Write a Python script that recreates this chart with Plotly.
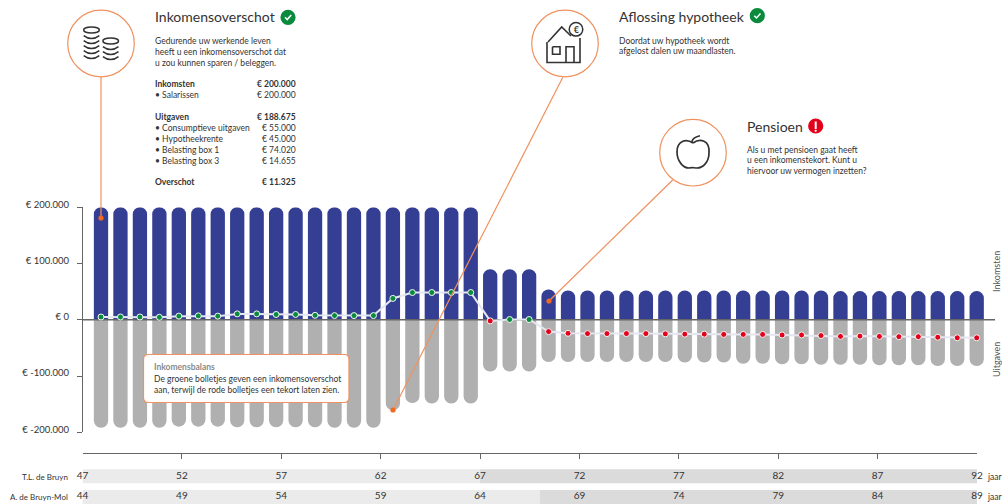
import plotly.graph_objects as go

# ---------- data ----------
ages = list(range(47, 93))
income = [200000]*20 + [90000]*3 + [54000] + [52000]*14 + [51000]*8
expenses = [-192000,-192000,-192000,-192000,-190000,-190000,-190000,-191000,-191000,-191000,-191000,-191000,-192000,-192000,-192000,
            -161000,-148000,-149000,-149000,-149000,-92000,-92000,-92000,
            -75000,-75000,-75000,-75000,-75000,-75000,-75000,-76000,-76000,-76000,-78000,-78000,-79000,-79000,-80000,-80000,-80000,-81000,-81000,-81000,-82000,-82000,-82000]
balance = [5000,5000,5000,4500,6500,7000,6500,10500,10500,9500,9500,8000,7500,7500,7500,
           38000,48500,48500,48500,48500,-2000,500,500,
           -21000,-24000,-24500,-24500,-24500,-24500,-25000,-25500,-25500,-26000,-26000,-26000,-27000,-27000,-28000,-29500,-29000,-29500,-30000,-30000,-31000,-32000,-32000]
ytick_vals = [200000,100000,0,-100000,-200000]
ytick_text = ["€ 200.000","€ 100.000","€ 0","€ -100.000","€ -200.000"]
persons = ["T.L. de Bruyn","A. de Bruyn-Mol"]
start_age = [47,44]
work_years = [20,23]
pension_years = [25,22]
tick_offsets = [0,5,10,15,20,25,30,35,40,45]

BLUE="#343f93"; GRAY="#b0b0b0"; GREEN="#0a8a3c"; RED="#e2001a"; ORANGE="#f0915f"; DOT="#f26a21"; INK="#333333"; AX="#666666"
FONT="Lato"
W,H=1002,504
px=lambda x:x/W
py=lambda y:1-y/H

fig=go.Figure()
# income / expense columns
fig.add_trace(go.Bar(x=ages,y=income,marker_color=BLUE,width=0.735,marker_line_width=0,hoverinfo="skip"))
fig.add_trace(go.Bar(x=ages,y=expenses,marker_color=GRAY,width=0.735,marker_line_width=0,hoverinfo="skip"))
XR=[47-(101-83)/19.46,47+(995-101)/19.46]
fig.add_trace(go.Scatter(x=XR,y=[0,0],mode="lines",line=dict(color=AX,width=1.5),hoverinfo="skip"))
dot_colors=[GREEN if b>=0 else RED for b in balance]
fig.add_trace(go.Scatter(x=ages,y=balance,mode="lines+markers",line=dict(color="#e4e6f2",width=2),
    marker=dict(color=dot_colors,size=6,line=dict(color="#f4f6f4",width=1)),hoverinfo="skip",cliponaxis=False))

# timeline strips
offs_base=[0,0]
fig.add_trace(go.Bar(orientation="h",y=persons,x=work_years,base=offs_base,marker=dict(color="#ebebeb",cornerradius=0,line_width=0),width=0.68,xaxis="x2",yaxis="y2",hoverinfo="skip"))
fig.add_trace(go.Bar(orientation="h",y=persons,x=pension_years,base=work_years,marker=dict(color="#dcdbdb",cornerradius=0,line_width=0),width=0.68,xaxis="x2",yaxis="y2",hoverinfo="skip"))
for name,start in zip(persons,start_age):
    fig.add_trace(go.Scatter(x=tick_offsets,y=[name]*len(tick_offsets),mode="text",text=[str(start+o) for o in tick_offsets],
        textfont=dict(family=FONT,size=10,color=INK),xaxis="x2",yaxis="y2",hoverinfo="skip",cliponaxis=False))

shapes=[];ann=[]
def txt(x,y,s,size=8.5,color=INK,anchor="left",bold=False,angle=0):
    ann.append(dict(xref="paper",yref="paper",x=px(x),y=py(y),text=("<b>%s</b>"%s if bold else s),showarrow=False,xanchor=anchor,yanchor="middle",
        textangle=angle,font=dict(family=FONT,size=size,color=color),borderpad=0,borderwidth=0))
def circle(cx,cy,r,fill="white",line=ORANGE,lw=1.2):
    shapes.append(dict(type="circle",xref="paper",yref="paper",x0=px(cx-r),x1=px(cx+r),y0=py(cy+r),y1=py(cy-r),fillcolor=fill,line=dict(color=line,width=lw),layer="above"))
def seg(x0,y0,x1,y1,color=ORANGE,lw=1.2):
    shapes.append(dict(type="line",xref="paper",yref="paper",x0=px(x0),y0=py(y0),x1=px(x1),y1=py(y1),line=dict(color=color,width=lw),layer="above"))
def path(cmds,color=INK,lw=1.6,fill=None):
    out=[]
    for c in cmds:
        out.append(c[0]+" "+" ".join("%.5f,%.5f"%(px(c[i]),py(c[i+1])) for i in range(1,len(c),2)))
    shapes.append(dict(type="path",xref="paper",yref="paper",path=" ".join(out)+(" Z" if fill else ""),line=dict(color=color,width=lw),fillcolor=fill or "rgba(0,0,0,0)",layer="above"))

# connectors
seg(101,77,101,218); seg(562.7,77.5,393,410); seg(672.7,180,549,301)
for c in [(101,218),(393,410),(549,301)]:
    circle(c[0],c[1],2.6,fill=DOT,line=DOT,lw=0)
circle(101,43.5,33.3); circle(565,43.5,33.3); circle(693,152.7,33.3)

# coins icon
def coin_stack(cx,top,n,rx=7.8):
    shapes.append(dict(type="circle",xref="paper",yref="paper",x0=px(cx-rx),x1=px(cx+rx),y0=py(top+3),y1=py(top-3),line=dict(color=INK,width=1.5),layer="above"))
    for i in range(n):
        y=top+5.6+i*5
        path([("M",cx-rx,y),("Q",cx,y+6,cx+rx,y)],lw=1.5)
coin_stack(91.5,30,5); coin_stack(110.7,41,3)

# house icon
path([("M",548,42),("L",561.7,27),("L",571,36)],lw=1.6)
path([("M",547,42),("L",547,62.5),("L",580,62.5),("L",580,38)],lw=1.6)
path([("M",552.5,46.7),("L",560,46.7),("L",560,54.3),("L",552.5,54.3),("L",552.5,46.7)],lw=1.6)
path([("M",566,62.5),("L",566,46.7),("L",574,46.7),("L",574,62.5)],lw=1.6)
circle(576,29.3,6.8,fill="white",line=INK,lw=1.5)
txt(576,29.5,"€",size=8.5,anchor="center",bold=True)

# apple icon
path([("M",693,143),("C",700,138,710,140,709,153),("C",709,162,703,168,697,168),("C",694,168,692,167,689,168),("C",683,168,677,161,677,152),
      ("C",677,141,686,138,693,143)],lw=1.7)
path([("M",692,142),("C",692,139,695,137,700,135.8)],lw=1.7)

# badges
for cx,cy in [(288,17.3),(757.3,15.7)]:
    circle(cx,cy,7.6,fill=GREEN,line=GREEN,lw=0)
    path([("M",cx-3,cy),("L",cx-0.8,cy+2.3),("L",cx+3.2,cy-2.2)],color="white",lw=1.5)
circle(815.7,126,7.6,fill=RED,line=RED,lw=0)
shapes.append(dict(type="rect",xref="paper",yref="paper",x0=px(814.7),x1=px(816.7),y0=py(129),y1=py(121.5),fillcolor="white",line=dict(width=0),layer="above"))
circle(815.7,130.8,1.1,fill="white",line="white",lw=0)

# callout box
bx0,bx1,by0,by1,r=143.5,349,354.5,402.5,5
path([("M",bx0+r,by0),("L",bx1-r,by0),("Q",bx1,by0,bx1,by0+r),("L",bx1,by1-r),("Q",bx1,by1,bx1-r,by1),("L",bx0+r,by1),("Q",bx0,by1,bx0,by1-r),("L",bx0,by0+r),("Q",bx0,by0,bx0+r,by0)],
     color=ORANGE,lw=1.2,fill="white")
txt(154,367,"Inkomensbalans",size=8.5,color="#8a8a8a",bold=True)
txt(154,378.5,"De groene bolletjes geven een inkomensoverschot",size=8.5)
txt(154,390,"aan, terwijl de rode bolletjes een tekort laten zien.",size=8.5)

# text panel 1
txt(155,17,"Inkomensoverschot",size=14)
for y,s in zip([41,52,62.5],["Gedurende uw werkende leven","heeft u een inkomensoverschot dat","u zou kunnen sparen / beleggen."]):
    txt(155,y,s)
rows=[(84,"Inkomsten","€ 200.000",True),(95,"• Salarissen","€ 200.000",False),(117,"Uitgaven","€ 188.675",True),
      (128,"• Consumptieve uitgaven","€ 55.000",False),(139,"• Hypotheekrente","€ 45.000",False),(149.5,"• Belasting box 1","€ 74.020",False),
      (160.5,"• Belasting box 3","€ 14.655",False),(182,"Overschot","€ 11.325",True)]
for y,a,b,bd in rows:
    txt(155,y,a,bold=bd); txt(295.5,y,b,anchor="right",bold=bd)

# text panel 2 / 3
txt(619,17,"Aflossing hypotheek",size=14)
txt(619,41,"Doordat uw hypotheek wordt"); txt(619,51.5,"afgelost dalen uw maandlasten.")
txt(747,126,"Pensioen",size=14)
txt(747,149.5,"Als u met pensioen gaat heeft"); txt(747,160,"u een inkomenstekort. Kunt u"); txt(747,171,"hiervoor uw vermogen inzetten?")

# side labels
txt(996,272,"Inkomsten",size=9,color="#555555",anchor="center",angle=-90)
txt(996,360,"Uitgaven",size=9,color="#555555",anchor="center",angle=-90)
txt(68,476.5,persons[0],size=8,anchor="right"); txt(68,497,persons[1],size=8,anchor="right")
txt(987,476.5,"jaar",size=8.5); txt(987,497,"jaar",size=8.5)

fig.update_layout(width=W,height=H,autosize=False,margin=dict(l=0,r=0,t=0,b=0,pad=0),paper_bgcolor="white",plot_bgcolor="rgba(0,0,0,0)",
    showlegend=False,barmode="overlay",barcornerradius=7,shapes=shapes,annotations=ann,
    xaxis=dict(domain=[px(83),px(995)],range=XR,visible=False,anchor="y",automargin=False),
    yaxis=dict(domain=[py(432.3),py(207.3)],range=[-200000,200000],tickvals=ytick_vals,ticktext=ytick_text,showgrid=False,zeroline=False,automargin=False,
        showline=True,linecolor=AX,linewidth=1.2,ticks="outside",ticklen=5,tickcolor=AX,tickwidth=1.2,ticklabelstandoff=6,ticklabelshift=-3,
        tickfont=dict(family=FONT,size=9.5,color=INK),anchor="x"),
    xaxis2=dict(domain=[px(82.5),px(977)],range=[0,45],side="top",anchor="y2",tickvals=tick_offsets,showticklabels=False,ticks="inside",ticklen=5,tickcolor=AX,automargin=False,
        showgrid=False,zeroline=False,showline=True,linecolor=AX,linewidth=1.2),
    yaxis2=dict(domain=[0,py(454.3)],type="category",categoryarray=persons,range=[1.34,-1.063],visible=False,anchor="x2",automargin=False),
)
fig.write_html("out.html",config={"displayModeBar":False},post_script="document.body.style.margin='0';")
